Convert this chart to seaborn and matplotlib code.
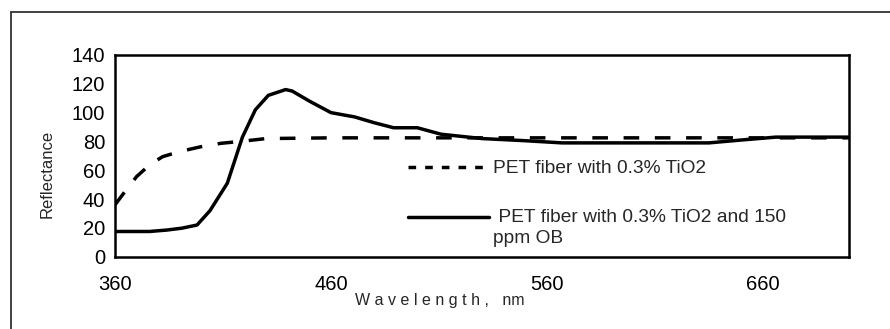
import matplotlib
matplotlib.use("Agg")
import matplotlib.pyplot as plt
from matplotlib.lines import Line2D
from matplotlib.legend_handler import HandlerLine2D
import seaborn as sns
import pandas as pd

# ---- data ----
wl_tio2 = [360, 365, 370, 376, 382, 390, 400, 409, 418, 430, 460, 560, 660, 700]
refl_tio2 = [36, 46, 55.6, 63.7, 69.4, 73, 76.4, 78.7, 80, 82, 82.5, 82.5, 82.5, 82.5]

wl_ob = [360, 368, 376, 384, 391, 398, 404, 412, 419, 425, 431, 439, 442, 450, 460,
         471, 480, 489, 500, 511, 530, 550, 567, 600, 635, 650, 666, 680, 700]
refl_ob = [17.5, 17.5, 17.5, 18.5, 19.8, 22, 32, 51, 83, 102, 112, 116, 115, 108, 100,
           97, 93, 89.5, 89.5, 85, 82, 80.5, 79, 79, 79, 81, 83, 83, 83]

label_tio2 = "PET fiber with 0.3% TiO2"
label_ob = " PET fiber with 0.3% TiO2 and 150\nppm OB"
x_ticks = [360, 460, 560, 660]
y_ticks = [0, 20, 40, 60, 80, 100, 120, 140]

sns.set_style("white")
plt.rcParams["font.family"] = ["Liberation Sans", "DejaVu Sans"]

W, H = 890, 329
fig = plt.figure(figsize=(W / 100, H / 100), dpi=100)
ax = fig.add_axes([115 / W, 1 - 256.7 / H, (849.3 - 115) / W, (256.7 - 55) / H])

df1 = pd.DataFrame({"wl": wl_tio2, "r": refl_tio2})
df2 = pd.DataFrame({"wl": wl_ob, "r": refl_ob})
sns.lineplot(data=df1, x="wl", y="r", ax=ax, color="black", lw=2.5,
             linestyle=(0, (4.5, 4.5)), label=label_tio2, legend=False)
sns.lineplot(data=df2, x="wl", y="r", ax=ax, color="black", lw=2.5,
             label=label_ob, legend=False)

ax.set_xlim(360, 700)
ax.set_ylim(0, 140)
ax.set_xticks(x_ticks)
ax.set_yticks(y_ticks)
ax.tick_params(axis="both", direction="out", length=5, width=1.3, colors="black",
               labelsize=14.5)
ax.tick_params(axis="y", pad=2)
ax.tick_params(axis="x", pad=8)
for s in ax.spines.values():
    s.set_visible(True)
    s.set_color("black")
    s.set_linewidth(1.8)

ax.set_ylabel("Reflectance", fontsize=12)
ax.yaxis.set_label_coords(-0.0817, 0.41)
ax.set_xlabel("W a v e l e n g t h ,   nm", fontsize=11.5)
ax.xaxis.set_label_coords(0.442, -0.18)


class ShiftedLine(HandlerLine2D):
    def __init__(self, dy=0, **kw):
        super().__init__(**kw)
        self.dy = dy

    def create_artists(self, legend, orig_handle, xdescent, ydescent, width, height,
                       fontsize, trans):
        arts = super().create_artists(legend, orig_handle, xdescent, ydescent, width,
                                      height, fontsize, trans)
        for a in arts:
            yd = a.get_ydata()
            a.set_ydata([v + self.dy for v in yd])
        return arts


h1 = Line2D([], [], color="black", lw=2.5, linestyle=(0, (2.2, 2.6)))
h2 = Line2D([], [], color="black", lw=2.5)
leg = ax.legend([h1, h2], [label_tio2, label_ob], loc="upper left",
                bbox_to_anchor=((408 - 115) / 734.3, (256.7 - 160) / 201.7),
                frameon=False, fontsize=13.8, handlelength=4.2, handletextpad=0.25,
                labelspacing=1.66, borderpad=0, borderaxespad=0,
                handler_map={h2: ShiftedLine(dy=8)})
for t in leg.get_texts():
    t.set_linespacing(1.27)

fig.add_artist(Line2D([10.7 / W, 1], [1 - 12.3 / H] * 2, transform=fig.transFigure,
                      color="#333333", lw=1.3))
fig.add_artist(Line2D([10.7 / W] * 2, [0, 1 - 12.3 / H], transform=fig.transFigure,
                      color="#333333", lw=1.3))

fig.savefig("out.png", dpi=100)
